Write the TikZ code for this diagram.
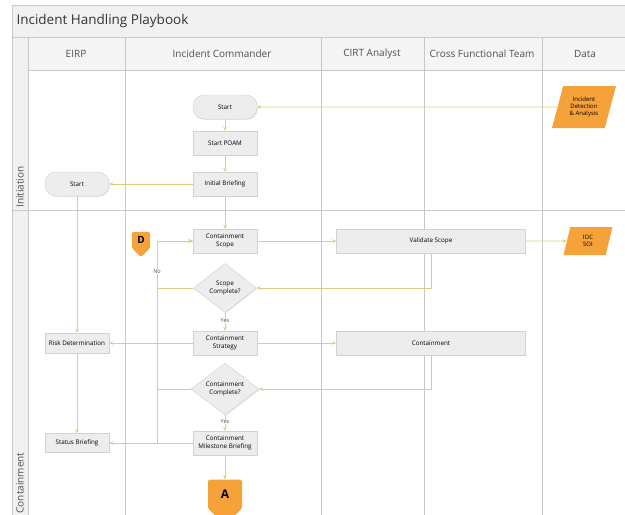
\documentclass[tikz,border=0pt]{standalone}
\usepackage{fontspec}
\setmainfont{Open Sans}
\usetikzlibrary{positioning,shapes.geometric,shapes.symbols,arrows.meta,shadows}

\definecolor{laneline}{HTML}{C8C8C8}
\definecolor{headfill}{HTML}{F1F1F1}
\definecolor{boxfill}{HTML}{EDEDED}
\definecolor{boxline}{HTML}{D2D2D2}
\definecolor{flowline}{HTML}{E0CC80}
\definecolor{dataorange}{HTML}{F6A23A}
\definecolor{labeltext}{HTML}{505050}

\begin{document}
\begin{tikzpicture}[
  x=1pt, y=-1pt,
  lane/.style={draw=laneline, line width=0.8pt},
  headtext/.style={font=\fontsize{10}{12}\selectfont, text=labeltext},
  process/.style={draw=boxline, fill=boxfill, minimum width=64pt, minimum height=24pt,
    inner sep=1pt, align=center, font=\fontsize{6.3}{7.3}\selectfont,
    drop shadow={shadow xshift=0.8pt, shadow yshift=-0.8pt, fill=black!22}},
  terminal/.style={process, rounded corners=11pt},
  decision/.style={diamond, draw=boxline, fill=boxfill, minimum width=64pt, minimum height=50pt,
    inner sep=0pt, align=center, font=\fontsize{6.3}{7.3}\selectfont,
    drop shadow={shadow xshift=0.8pt, shadow yshift=-0.8pt, fill=black!22}},
  data/.style={trapezium, trapezium left angle=63, trapezium right angle=117,
    trapezium stretches body, fill=dataorange, inner sep=1pt, align=center,
    font=\fontsize{6}{7}\selectfont},
  offpage/.style={signal, signal to=south, signal from=nowhere, fill=dataorange,
    rounded corners=1.5pt, inner sep=0pt, font=\bfseries},
  flow/.style={draw=flowline, line width=0.7pt, -{Stealth[length=4pt,width=3.5pt]}},
  lbl/.style={fill=white, inner sep=0.5pt, font=\fontsize{5.5}{6}\selectfont, text=labeltext}
]
\useasboundingbox (0,0) rectangle (625,515);
\clip (0,0) rectangle (625,515);

% pool frame, title bar, lane headers and phases
\fill[white] (0,0) rectangle (625,515);
\fill[headfill] (12,5) rectangle (640,37);
\fill[headfill!70] (28,37) rectangle (640,70);
\fill[headfill] (12,37) rectangle (28,530);
\draw[lane] (12,530) -- (12,5) -- (640,5);
\draw[lane] (12,37) -- (640,37);
\draw[lane] (28,70) -- (640,70);
\draw[lane] (12,210) -- (640,210);
\foreach \x in {28,125,321,424,542}
  \draw[lane] (\x,37) -- (\x,530);

\node[anchor=west, font=\fontsize{13.5}{15}\selectfont, text=black!80] (title) at (13,21) {Incident Handling Playbook};
\foreach \x/\txt [count=\i] in {76/EIRP, 222/Incident Commander, 372/CIRT Analyst,
                                482/Cross Functional Team, 585/Data}
  \node[headtext] (head\i) at (\x,54) {\txt};
\node[headtext, rotate=90] (initiation) at (20,187) {Initiation};
\node[headtext, rotate=90] (containment) at (20,483) {Containment};

% initiation phase
\node[terminal] (start) at (225,107) {Start};
\node[process] (poam) at (225,143) {Start POAM};
\node[process] (brief) at (225,184) {Initial Briefing};
\node[terminal] (eirpstart) at (77,184) {Start};
\node[data, minimum width=64pt, minimum height=42pt] (detect) at (584,107) {Incident\\Detection\\\& Analysis};

% containment phase
\node[process] (scope) at (225,241) {Containment\\Scope};
\node[offpage, minimum width=18pt, minimum height=20pt] (markd) at (141,240) {D};
\node[process, minimum width=189pt] (validate) at (431,241) {Validate Scope};
\node[data, minimum width=49pt, minimum height=28pt] (ioc) at (588,241) {IOC\\SOI};
\node[decision, minimum width=63pt, minimum height=49pt] (scopeq) at (225,288) {Scope\\Complete?};
\node[process] (strategy) at (225,343) {Containment\\Strategy};
\node[process, minimum height=20pt] (risk) at (77,343) {Risk Determination};
\node[process, minimum width=189pt] (contain) at (431,343) {Containment};
\node[decision, minimum width=68pt, minimum height=51pt] (containq) at (225,389) {Containment\\Complete?};
\node[process] (milestone) at (225,443) {Containment\\Milestone Briefing};
\node[process, minimum height=19pt] (status) at (77,443) {Status Briefing};
\node[offpage, minimum width=34pt, minimum height=33pt, font=\bfseries\large] (marka) at (225,494) {A};
\coordinate (back) at (157,0);

% connectors
\draw[flow] (detect) -- (start);
\draw[flow] (start) -- (poam);
\draw[flow] (poam) -- (brief);
\draw[flow] (brief) -- (eirpstart);
\draw[flow] (brief) -- (scope);
\draw[flow] (eirpstart) -- (risk);
\draw[flow] (risk) -- (status);
\draw[flow] (scope) -- (validate);
\draw[flow] (validate) -- (ioc);
\draw[flow] (validate.south) |- (scopeq.east);
\draw[flow] (scopeq.west) -- (scopeq.west -| back) |- (scope.west);
\draw[flow] (scopeq) -- (strategy);
\draw[flow] (strategy) -- (risk);
\draw[flow] (strategy) -- (contain);
\draw[flow] (contain.south) |- (containq.east);
\draw[flow] (containq.west) -- (containq.west -| back) |- (scope.west);
\draw[flow] (containq) -- (milestone);
\draw[flow] (milestone.west) -- (milestone.west -| back) |- (scope.west);
\draw[flow] (milestone) -- (status);
\draw[flow] (milestone) -- (marka);

\node[lbl] (no1) at (157,272) {No};
\node[lbl] (yes1) at (225,321) {Yes};
\node[lbl] (yes2) at (225,422) {Yes};
\end{tikzpicture}
\end{document}
